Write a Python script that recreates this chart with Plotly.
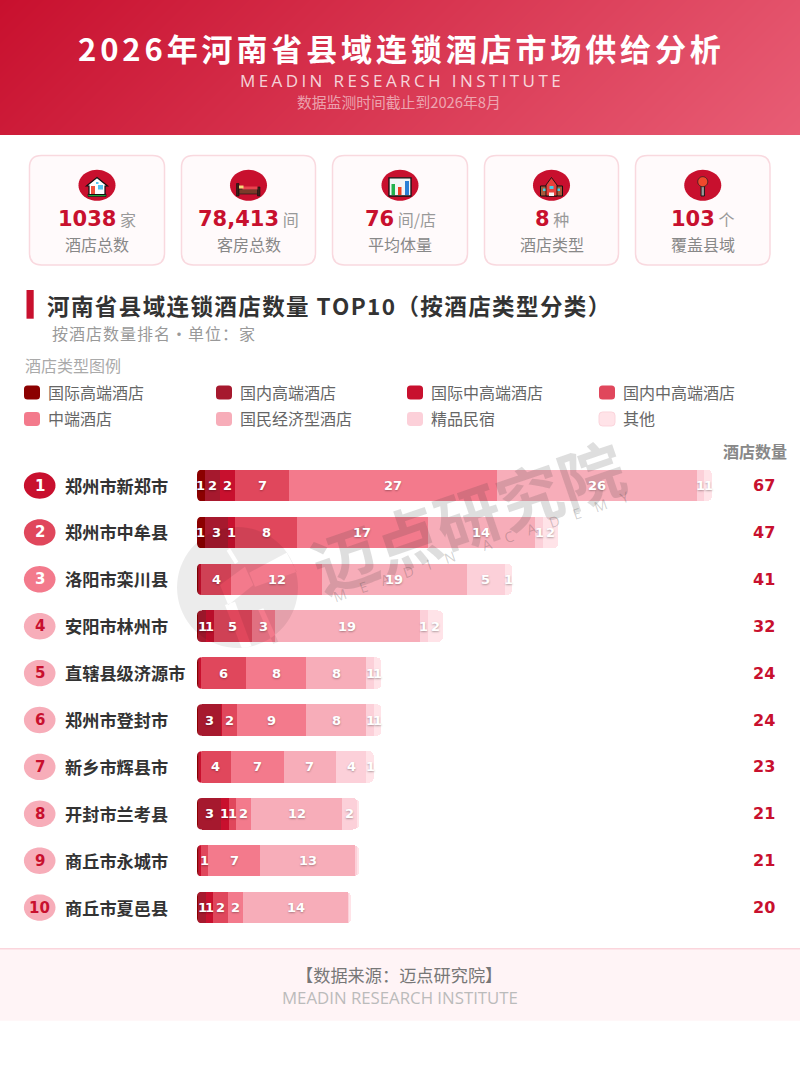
import plotly.graph_objects as go

W = 800
H = 1066
CJK = "Noto Sans CJK SC"
NUM = "DejaVu Sans"
RED = "#c8102e"

#### data
counties = ["郑州市新郑市", "郑州市中牟县", "洛阳市栾川县", "安阳市林州市", "直辖县级济源市",
            "郑州市登封市", "新乡市辉县市", "开封市兰考县", "商丘市永城市", "商丘市夏邑县"]
totals = [67, 47, 41, 32, 24, 24, 23, 21, 21, 20]

type_names = ["国际高端酒店", "国内高端酒店", "国际中高端酒店", "国内中高端酒店",
              "中端酒店", "国民经济型酒店", "精品民宿", "其他"]
type_colors = ["#8b0000", "#a6192e", "#c8102e", "#e0475c", "#f37a8c", "#f7adb9", "#fcd0d9", "#ffe3e8"]

intl_luxury = [1, 1, 0, 0, 0, 0, 0, 0, 0, 0]
dom_luxury = [2, 3, 0, 1, 0, 3, 0, 3, 0, 1]
intl_upper = [2, 1, 0, 1, 0, 0, 0, 1, 0, 1]
dom_upper = [7, 8, 4, 5, 6, 2, 4, 1, 1, 2]
midscale = [27, 17, 12, 3, 8, 9, 7, 2, 7, 2]
economy = [26, 14, 19, 19, 8, 8, 7, 12, 13, 14]
boutique = [1, 1, 5, 1, 1, 1, 4, 2, 0, 0]
other = [1, 2, 1, 2, 1, 1, 1, 0, 0, 0]
series = [intl_luxury, dom_luxury, intl_upper, dom_upper, midscale, economy, boutique, other]

kpi_values = ["1038", "78,413", "76", "8", "103"]
kpi_units = ["家", "间", "间/店", "种", "个"]
kpi_labels = ["酒店总数", "客房总数", "平均体量", "酒店类型", "覆盖县域"]

#### layout numbers
BAR_X0 = 197
BAR_X1 = 712
ROW_Y0 = 485.5
ROW_STEP = 46.9
BAR_H = 31.5
MIN_SEG = 0.17  # empty types still show as a sliver in the original
card_x = [(29.5, 164.5), (181.5, 315.5), (332.5, 467.5), (484.5, 618.5), (635.5, 770)]


def px(x):
    return x / W


def py(y):
    return 1 - y / H


def spaced(text, sep="\u200a"):
    return sep.join(text)


def poly(points, closed=True):
    out = "M" + " L".join(f"{px(x):.5f},{py(y):.5f}" for x, y in points)
    return out + (" Z" if closed else "")


def rr_path(x0, y0, x1, y1, r):
    c = lambda x, y: f"{px(x):.5f},{py(y):.5f}"
    return (f"M{c(x0 + r, y0)} L{c(x1 - r, y0)} Q{c(x1, y0)} {c(x1, y0 + r)} "
            f"L{c(x1, y1 - r)} Q{c(x1, y1)} {c(x1 - r, y1)} L{c(x0 + r, y1)} "
            f"Q{c(x0, y1)} {c(x0, y1 - r)} L{c(x0, y0 + r)} Q{c(x0, y0)} {c(x0 + r, y0)} Z")


def circle_path(cx, cy, rx, ry, n=48):
    import math
    return poly([(cx + rx * math.cos(2 * math.pi * i / n), cy + ry * math.sin(2 * math.pi * i / n)) for i in range(n)])


shapes = []
annotations = []


def add_shape(path, fill, line=None, width=0):
    shapes.append(dict(type="path", xref="paper", yref="paper", path=path, fillcolor=fill,
                       line=dict(color=line or "rgba(0,0,0,0)", width=width)))


def add_box(x0, y0, x1, y1, fill, line=None, width=0):
    add_shape(poly([(x0, y0), (x1, y0), (x1, y1), (x0, y1)]), fill, line, width)


def add_text(x, y, text, size, color, family=CJK, anchor="left", bold=False, angle=0, shadow=None):
    font = dict(size=size, color=color, family=family, weight="bold" if bold else "normal")
    if shadow:
        font["shadow"] = shadow
    annotations.append(dict(xref="paper", yref="paper", x=px(x), y=py(y), text=text, showarrow=False,
                            xanchor=anchor, yanchor="middle", font=font, textangle=angle, borderpad=0))


fig = go.Figure()

#### header gradient (135deg)
fig.add_trace(go.Heatmap(x=[0, W], y=[0, 135], z=[[0, W / (W + 135)], [135 / (W + 135), 1]], zmin=0, zmax=1,
                         zsmooth="best", showscale=False, hoverinfo="skip",
                         colorscale=[[0, "#c8102e"], [1, "#e85d75"]], xaxis="x2", yaxis="y2"))

#### stacked bars, empty types keep a small minimum width inside the row's length
plot_vals = []
for i in range(len(counties)):
    row = [s[i] for s in series]
    empties = row.count(0)
    k = totals[i] / (totals[i] + empties * MIN_SEG)
    plot_vals.append([(v if v else MIN_SEG) * k for v in row])

for t, name in enumerate(type_names):
    fig.add_trace(go.Bar(y=list(range(len(counties))), x=[plot_vals[i][t] for i in range(len(counties))],
                         orientation="h", name=name, marker=dict(color=type_colors[t], line=dict(width=0)),
                         hoverinfo="skip", showlegend=False))

#### cards
for n, (x0, x1) in enumerate(card_x):
    add_shape(rr_path(x0, 155.5, x1, 265, 12), "#fffafb", "#f9d9df", 1.5)
    cx = (x0 + x1) / 2
    add_shape(circle_path(cx, 185.3, 18.5, 15.5), RED)
    add_text(cx, 219.5, f'<b style="font-size:21px;color:{RED}">{kpi_values[n]}</b>'
             f'<span style="font-family:{CJK};font-size:16px;color:#999999"> {kpi_units[n]}</span>',
             16, "#999999", family=NUM, anchor="center")
    add_text(cx, 244.3, kpi_labels[n], 16, "#888888", anchor="center")

# house
c = (card_x[0][0] + card_x[0][1]) / 2
add_box(c - 9, 194, c + 9, 196.5, "#1fa83c", "#111111", 0.6)
add_shape(poly([(c, 177.5), (c + 10.5, 186), (c + 8, 186), (c + 8, 194.5), (c - 8, 194.5), (c - 8, 186), (c - 10.5, 186)]), "#ffffff", "#111111", 1.2)
add_box(c + 1, 185, c + 6, 189.5, "#55c4f0")
add_box(c - 6, 186, c - 2, 194, "#f0503c")
add_box(c - 1, 182, c + 1.5, 184, "#55c4f0")
# bed
c = (card_x[1][0] + card_x[1][1]) / 2
add_box(c - 12, 183.5, c - 9.5, 196, "#3a2018", "#111111", 0.6)
add_box(c + 9, 187, c + 11.5, 196, "#3a2018", "#111111", 0.6)
add_box(c - 9.5, 189, c + 9, 194, "#7a3b2a", "#111111", 0.6)
add_box(c - 6, 186.5, c + 9, 189.5, "#e8434f")
add_box(c - 9.5, 185.5, c - 5, 188.5, "#f5d97a")
# chart
c = (card_x[2][0] + card_x[2][1]) / 2
add_box(c - 11, 177.8, c + 11, 196, "#f2f4f5", "#111111", 1.3)
add_box(c - 8.5, 184, c - 5, 195, "#22b14c")
add_box(c - 2, 187, c + 1.5, 195, "#f0401f")
add_box(c + 5, 181, c + 9, 195, "#2a7fd5")
# school
c = (card_x[3][0] + card_x[3][1]) / 2
add_box(c - 11, 186, c + 11, 196, "#a85a3a", "#111111", 1)
add_shape(poly([(c, 177.5), (c + 5.5, 185), (c + 5.5, 196), (c - 5.5, 196), (c - 5.5, 185)]), "#e8403c", "#111111", 0.9)
add_box(c - 8.5, 188.5, c - 6, 191, "#45d0e8")
add_box(c + 6, 188.5, c + 8.5, 191, "#45d0e8")
add_box(c - 2, 186, c + 2, 189, "#45d0e8")
add_box(c - 2.5, 192.5, c + 2.5, 196, "#f4f4f4")
# pin
c = (card_x[4][0] + card_x[4][1]) / 2
add_box(c - 1.7, 186, c + 1.7, 196, "#9a9a9a", "#111111", 0.9)
add_shape(circle_path(c, 181.7, 5, 5), "#f0492c", "#222222", 0.8)

#### header text
add_text(W / 2 - 1, 47.7, spaced("2026年河南省县域连锁酒店市场供给分析", "\u200a\u200a"), 31, "#ffffff", anchor="center", bold=True)
add_text(W / 2, 80.3, spaced("MEADIN RESEARCH INSTITUTE", "\u200a\u200a"), 17, "rgba(255,255,255,0.8)", family="Open Sans", anchor="center")
add_text(W / 2 - 1, 101.7, "数据监测时间截止到2026年8月", 14.8, "rgba(255,255,255,0.55)", anchor="center")

#### section title
add_box(26.5, 290, 33.7, 318.7, RED)
add_text(46, 305, spaced("河南省县域连锁酒店数量 TOP10（按酒店类型分类）"), 22.5, "#333333", bold=True)
add_text(51, 332.8, spaced("按酒店数量排名") + "\u200a·\u200a" + spaced("单位：家"), 16, "#999999")
add_text(24, 365.4, "酒店类型图例", 16, "#aaaaaa")

#### legend
legend_x = [24, 216, 407, 599]
for t, name in enumerate(type_names):
    x = legend_x[t % 4]
    y = 392.5 if t < 4 else 419
    add_shape(rr_path(x, y - 7, x + 16, y + 7, 3.5), type_colors[t],
              "#fbd5dc" if t == 7 else None, 1 if t == 7 else 0)
    add_text(x + 23, y - 0.8, name, 16, "#666666")

#### rows
add_text(754.7, 450.5, "酒店数量", 16, "#888888", anchor="center", bold=True)
badge_colors = ["#c8102e", "#e0475c", "#f37a8c"]
for i, name in enumerate(counties):
    y = ROW_Y0 + ROW_STEP * i
    fill = badge_colors[i] if i < 3 else "#f7adb9"
    add_shape(circle_path(39.7, y, 15.8, 13.2), fill)
    add_text(39.7, y, str(i + 1), 15, "#ffffff" if i < 3 else RED, family=NUM, anchor="center", bold=True)
    add_text(63.5, y - 0.5, name, 17.2, "#333333", bold=True)
    add_text(764, y, str(totals[i]), 16, RED, family=NUM, anchor="center", bold=True)
    # left corners of the stack
    r = 5
    top, bot = y - BAR_H / 2, y + BAR_H / 2
    c = lambda a, b: f"{px(a):.5f},{py(b):.5f}"
    add_shape(f"M{c(BAR_X0 - 0.5, top - 0.5)} L{c(BAR_X0 + r, top - 0.5)} L{c(BAR_X0 + r, top)} Q{c(BAR_X0, top)} {c(BAR_X0, top + r)} L{c(BAR_X0 - 0.5, top + r)} Z", "#ffffff")
    add_shape(f"M{c(BAR_X0 - 0.5, bot + 0.5)} L{c(BAR_X0 + r, bot + 0.5)} L{c(BAR_X0 + r, bot)} Q{c(BAR_X0, bot)} {c(BAR_X0, bot - r)} L{c(BAR_X0 - 0.5, bot - r)} Z", "#ffffff")

#### watermark, sits over the bars
holes = [
    [(286.7, 552.7), (296.7, 571.7), (255, 586.7), (249.3, 572.7)],
    [(220, 585), (245, 566.7), (253.3, 585), (228.3, 605)],
    [(225, 605), (235, 601.7), (251.7, 646.7), (241.7, 648)],
    [(258.3, 610), (263.3, 608.3), (278.3, 641.7), (273.3, 644)],
    [(226.7, 550.7), (230, 548.3), (238.3, 561.7), (235, 564)],
]
logo = circle_path(237.5, 587.5, 60.5, 60.5, 72) + " " + " ".join(poly(h) for h in holes)
add_shape(logo, "rgba(0,0,0,0.075)")
add_text(467, 515, "迈点研究院", 65, "rgba(60,60,60,0.17)", anchor="center", bold=True, angle=-19)
add_text(481, 546, "\u2003".join("MEADIN") + "\u2003\u2003" + "\u2003".join("ACADEMY"), 14.5,
         "rgba(60,60,60,0.24)", family="Open Sans", anchor="center", angle=-19)

#### segment labels go after the watermark so they stay clean
for i in range(len(counties)):
    left = 0
    for t in range(len(series)):
        w = plot_vals[i][t]
        if series[t][i]:
            annotations.append(dict(xref="x", yref="y", x=left + w / 2, y=i, text=str(series[t][i]), showarrow=False,
                                    borderpad=0, font=dict(size=13, color="#ffffff", family=NUM, weight="bold",
                                                           shadow="0px 1px 2px rgba(0,0,0,0.3)")))
        left += w

#### footer
add_box(-1, 949, W + 1, 1020.7, "#fff4f6")
add_box(-1, 948, W + 1, 949.5, "#fbd5dc")
add_text(W / 2 - 1, 974, "【数据来源：迈点研究院】", 17.2, "#777777", anchor="center")
add_text(W / 2, 997.7, "MEADIN RESEARCH INSTITUTE", 16.8, "#bbbbbb", family="Open Sans", anchor="center")

fig.update_layout(
    width=W, height=H, margin=dict(l=0, r=0, t=0, b=0),
    paper_bgcolor="#ffffff", plot_bgcolor="rgba(0,0,0,0)",
    barmode="stack", bargap=1 - BAR_H / ROW_STEP, barcornerradius=5, showlegend=False,
    xaxis=dict(visible=False, range=[0, totals[0]], domain=[px(BAR_X0), px(BAR_X1)], fixedrange=True),
    yaxis=dict(visible=False, range=[len(counties) - 0.5, -0.5],
               domain=[py(ROW_Y0 + ROW_STEP * 9.5), py(ROW_Y0 - ROW_STEP * 0.5)], fixedrange=True),
    xaxis2=dict(visible=False, range=[0, W], domain=[0, 1], anchor="y2", fixedrange=True),
    yaxis2=dict(visible=False, range=[135, 0], domain=[py(135), 1], anchor="x2", fixedrange=True),
    shapes=shapes, annotations=annotations,
)

# page has a default body margin, the figure should fill the window
fig.write_html("out.html", config=dict(displayModeBar=False), post_script="document.body.style.margin='0';")
